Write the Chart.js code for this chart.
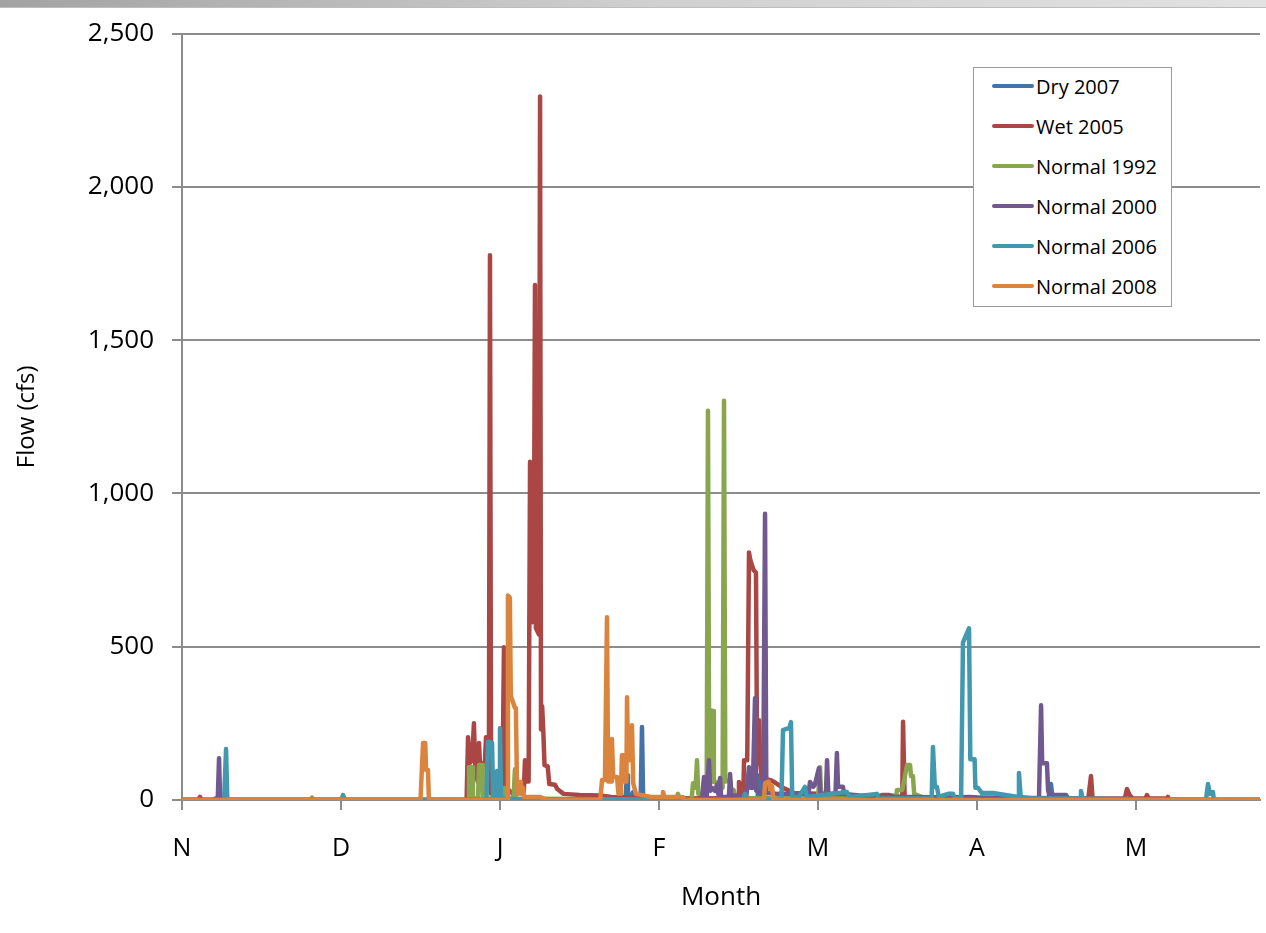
<!DOCTYPE html>
<html>
<head>
<meta charset="utf-8">
<script src="https://cdn.jsdelivr.net/npm/chart.js@4.4.1/dist/chart.umd.min.js"></script>
<style>
  html, body { margin: 0; padding: 0; background: #fff; }
  #wrap { position: relative; width: 1266px; height: 933px; overflow: hidden; }
  #topband { position: absolute; left: 0; top: 0; width: 1266px; height: 7px;
    background: linear-gradient(to right, #a2a2a2, #cfcfcf 50%, #e2e2e2); border-bottom: 1px solid #bdbdbd; }
  #legend { position: absolute; left: 973px; top: 67px; width: 197px; height: 238px;
    border: 1px solid #9a9a9a; background: #fff; font-family: 'Open Sans', sans-serif; font-size: 20px; color: #000; }
  .item { position: absolute; left: 18px; height: 26px; display: flex; align-items: center; white-space: nowrap; }
  .swatch { width: 42px; height: 4px; border-radius: 2px; margin-right: 2px; }
</style>
</head>
<body>
<div id="wrap">
  <canvas id="c" width="1266" height="933"></canvas>
  <div id="topband"></div>
  <div id="legend"></div>
</div>
<script>
// ---- Data (x = months since 1 Nov, y = flow in cfs) ----
const monthLabels = ['N', 'D', 'J', 'F', 'M', 'A', 'M'];
const seriesNames = ['Dry 2007', 'Wet 2005', 'Normal 1992', 'Normal 2000', 'Normal 2006', 'Normal 2008'];
const seriesColors = ['#4572A7', '#AA4643', '#89A54E', '#71588F', '#4198AF', '#DB843D'];

const dry2007 = [[0,0],[2.78,0],[2.79,10],[2.799,81],[2.805,20],[2.83,15],[2.836,25],[2.845,10],[2.885,10],[2.893,238],[2.90,10],[3.0,5],[3.62,5],[3.629,80],[3.64,10],[3.7,5],[5.45,5],[5.465,52],[5.475,10],[5.5,0],[6.78,0]];

const wet2005 = [[0,0],[0.10,0],[0.113,10],[0.125,0],[1.79,0],[1.799,205],[1.81,120],[1.825,130],[1.836,250],[1.845,100],[1.86,60],[1.868,186],[1.875,110],[1.887,120],[1.90,60],[1.912,205],[1.925,200],[1.93,40],[1.937,1777],[1.944,20],[1.96,25],[2.015,30],[2.025,498],[2.032,480],[2.04,40],[2.08,20],[2.15,30],[2.157,130],[2.165,60],[2.18,60],[2.189,1103],[2.20,1000],[2.205,580],[2.212,600],[2.220,1680],[2.226,560],[2.245,540],[2.252,2295],[2.258,230],[2.265,306],[2.272,230],[2.28,114],[2.30,110],[2.31,52],[2.345,50],[2.36,36],[2.40,20],[2.50,16],[2.63,15],[2.70,10],[2.85,8],[3.0,5],[3.2,5],[3.45,5],[3.50,10],[3.503,59],[3.51,20],[3.53,20],[3.535,130],[3.555,130],[3.566,807],[3.575,781],[3.595,750],[3.610,742],[3.617,120],[3.625,120],[3.629,260],[3.636,120],[3.648,72],[3.70,65],[3.72,60],[3.78,40],[3.85,23],[4.0,20],[4.2,15],[4.37,10],[4.403,16],[4.45,16],[4.52,10],[4.53,10],[4.535,255],[4.545,10],[4.8,8],[4.95,10],[5.0,8],[5.7,5],[5.717,78],[5.727,5],[5.93,5],[5.943,36],[5.96,16],[5.98,5],[6.06,5],[6.069,16],[6.08,5],[6.195,5],[6.201,10],[6.21,0],[6.78,0]];

const normal1992 = [[0,0],[0.81,0],[0.818,8],[0.826,0],[1.80,0],[1.805,107],[1.824,107],[1.83,5],[1.862,5],[1.868,114],[1.887,114],[1.893,5],[2.025,5],[2.031,39],[2.04,5],[2.085,5],[2.094,100],[2.10,5],[3.11,0],[3.119,20],[3.128,0],[3.205,0],[3.214,55],[3.23,40],[3.239,130],[3.247,20],[3.30,20],[3.308,1270],[3.316,60],[3.322,293],[3.34,290],[3.345,59],[3.36,59],[3.40,40],[3.409,1302],[3.417,60],[3.447,65],[3.455,33],[3.47,33],[3.48,10],[3.6,5],[4.0,5],[4.013,107],[4.02,5],[4.49,5],[4.497,33],[4.53,33],[4.56,114],[4.579,114],[4.585,78],[4.597,78],[4.605,20],[4.65,10],[4.7,0],[6.78,0]];

const normal2000 = [[0,0],[0.20,0],[0.21,5],[0.225,5],[0.233,136],[0.24,0],[3.27,0],[3.283,75],[3.29,10],[3.30,10],[3.314,130],[3.322,30],[3.333,40],[3.352,30],[3.365,50],[3.372,20],[3.384,72],[3.39,10],[3.44,10],[3.447,85],[3.455,15],[3.55,15],[3.566,107],[3.575,40],[3.59,40],[3.604,332],[3.612,30],[3.655,20],[3.667,934],[3.675,23],[3.75,20],[3.94,20],[3.950,59],[3.97,43],[3.98,50],[4.006,104],[4.015,20],[4.05,20],[4.057,130],[4.065,20],[4.11,20],[4.119,153],[4.126,43],[4.157,43],[4.165,20],[4.26,15],[4.40,10],[4.6,10],[5.39,5],[5.403,309],[5.41,120],[5.44,120],[5.447,33],[5.455,16],[5.56,16],[5.58,0],[6.78,0]];

const normal2006 = [[0,0],[0.265,0],[0.277,166],[0.285,0],[1.0,0],[1.013,16],[1.025,0],[1.915,0],[1.925,190],[1.95,186],[1.957,10],[1.965,10],[1.969,90],[1.981,94],[1.988,10],[1.994,10],[2.000,234],[2.007,10],[2.02,5],[2.2,0],[3.53,0],[3.541,20],[3.55,0],[3.77,0],[3.780,228],[3.82,235],[3.830,254],[3.838,10],[3.88,10],[3.918,43],[3.93,10],[4.182,26],[4.20,10],[4.371,20],[4.38,5],[4.715,5],[4.723,173],[4.735,43],[4.748,43],[4.76,10],[4.818,20],[4.85,20],[4.86,5],[4.90,5],[4.912,514],[4.950,560],[4.958,133],[4.985,133],[4.99,40],[5.006,40],[5.03,23],[5.10,23],[5.26,10],[5.264,88],[5.275,10],[5.35,5],[5.65,5],[5.654,29],[5.665,5],[6.44,0],[6.453,52],[6.465,20],[6.484,26],[6.49,0],[6.78,0]];

const normal2008 = [[0,0],[1.50,0],[1.516,186],[1.53,186],[1.535,98],[1.547,98],[1.553,0],[2.045,0],[2.050,667],[2.062,660],[2.068,340],[2.094,300],[2.10,300],[2.107,40],[2.115,20],[2.126,59],[2.132,20],[2.145,40],[2.152,10],[2.25,10],[2.30,0],[2.63,0],[2.642,65],[2.66,65],[2.673,596],[2.68,60],[2.70,60],[2.704,199],[2.712,75],[2.736,75],[2.745,20],[2.76,20],[2.767,146],[2.78,146],[2.785,60],[2.795,60],[2.799,335],[2.806,130],[2.815,130],[2.83,244],[2.838,55],[2.855,20],[2.90,15],[2.95,10],[3.02,10],[3.025,26],[3.035,10],[3.15,10],[3.16,0],[3.66,0],[3.667,55],[3.69,60],[3.70,35],[3.711,45],[3.72,0],[6.78,0]];

const yTicks = [0, 500, 1000, 1500, 2000, 2500];
const xMax = 6.78;

// ---- Build chart ----
const allSeries = [dry2007, wet2005, normal1992, normal2000, normal2006, normal2008];
const datasets = allSeries.map((s, i) => ({
  label: seriesNames[i],
  data: s.map(p => ({ x: p[0], y: p[1] })),
  borderColor: seriesColors[i],
  backgroundColor: seriesColors[i],
  borderWidth: 4.5,
  pointRadius: 0,
  tension: 0,
  fill: false,
  borderJoinStyle: 'round',
  borderCapStyle: 'round',
  order: allSeries.length - i
}));

const fam = "'Open Sans', sans-serif";
new Chart(document.getElementById('c'), {
  type: 'line',
  data: { datasets },
  options: {
    responsive: false,
    animation: false,
    devicePixelRatio: 1,
    layout: { padding: { left: 0, right: 6, top: 32, bottom: 0 } },
    plugins: { legend: { display: false }, tooltip: { enabled: false } },
    scales: {
      x: {
        type: 'linear', min: 0, max: xMax,
        afterFit: (s) => { s.height = 133; },
        afterBuildTicks: (s) => { s.ticks = monthLabels.map((_, i) => ({ value: i })); },
        ticks: { callback: (v) => monthLabels[v], font: { family: fam, size: 25 }, color: '#000', padding: 24, maxRotation: 0, autoSkip: false },
        grid: { drawOnChartArea: false, drawTicks: true, tickLength: 10, color: '#8c8c8c', lineWidth: 2 },
        border: { color: '#8c8c8c', width: 2 },
        title: { display: true, text: 'Month', font: { family: fam, size: 26 }, color: '#000', padding: { top: 0, bottom: 20 } }
      },
      y: {
        min: 0, max: 2500,
        afterFit: (s) => { s.width = 182; },
        afterBuildTicks: (s) => { s.ticks = yTicks.map(v => ({ value: v })); },
        ticks: { callback: (v) => v.toLocaleString('en-US'), font: { family: fam, size: 26 }, color: '#000', padding: 18 },
        grid: { color: '#8c8c8c', lineWidth: 2, tickLength: 10 },
        border: { color: '#8c8c8c', width: 2 },
        title: { display: true, text: 'Flow (cfs)', font: { family: fam, size: 24 }, color: '#000', padding: { top: 13, bottom: 0 } }
      }
    }
  }
});

// ---- HTML legend ----
const lg = document.getElementById('legend');
seriesNames.forEach((n, i) => {
  const d = document.createElement('div');
  d.className = 'item';
  d.style.top = (5 + i * 40) + 'px';
  d.innerHTML = '<span class="swatch" style="background:' + seriesColors[i] + '"></span><span>' + n + '</span>';
  lg.appendChild(d);
});
</script>
</body>
</html>
